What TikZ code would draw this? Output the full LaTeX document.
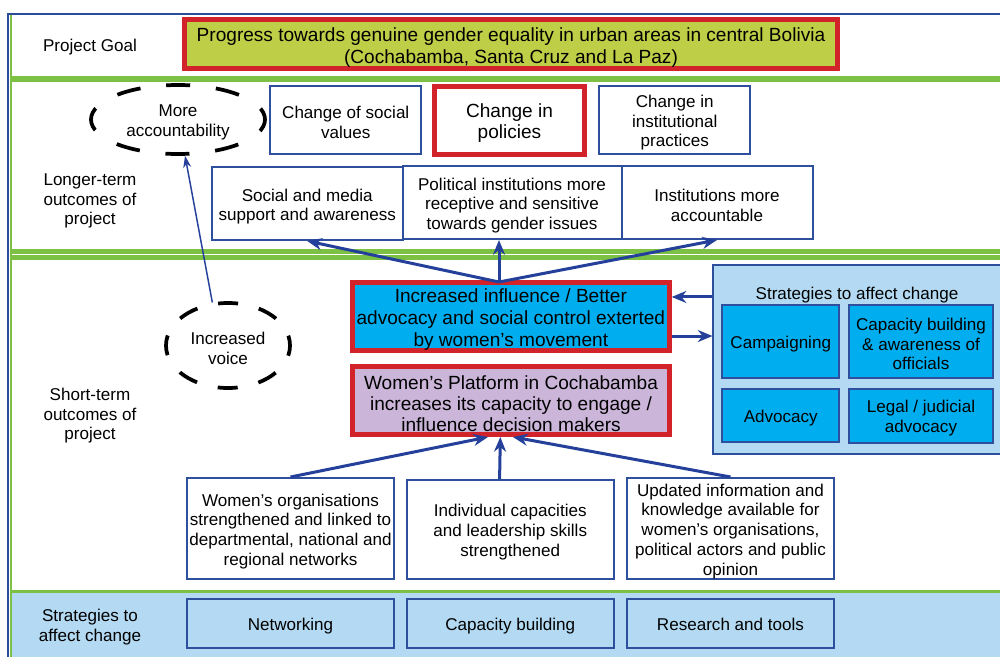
\documentclass[tikz,border=0pt]{standalone}
\usepackage{fontspec}
\setmainfont{Liberation Sans}
\usetikzlibrary{shapes.geometric,arrows.meta}
\definecolor{fblue}{HTML}{2B4C9B}
\definecolor{bblue}{HTML}{2E4E9E}
\definecolor{ablue}{HTML}{24409A}
\definecolor{gr}{HTML}{7CC144}
\definecolor{myred}{HTML}{D2232A}
\definecolor{goalf}{HTML}{BFCE47}
\definecolor{cyanf}{HTML}{00AEEF}
\definecolor{lavf}{HTML}{CBB5D9}
\definecolor{lightb}{HTML}{B3DAF2}
\newcommand\fA{\fontsize{12.8}{14.8}\selectfont}
\newcommand\fB{\fontsize{14.3}{16}\selectfont}
\newcommand\stA{\rule[-2.7pt]{0pt}{16.1pt}}
\newcommand\stB{\rule[-3pt]{0pt}{18pt}}
\begin{document}
\begin{tikzpicture}[x=0.75pt,y=-0.75pt,
  bbox/.style={draw=bblue, line width=1.5pt, fill=white, inner sep=0pt, align=center, font=\fA},
  rbox/.style={draw=myred, line width=3.75pt, inner sep=0pt, align=center, font=\fB},
  sbox/.style={draw=bblue, line width=1.5pt, fill=cyanf, inner sep=0pt, align=center, font=\fA},
  lab/.style={align=center, font=\fA, inner sep=0pt},
  arr/.style={draw=ablue, line width=2.25pt, -{Stealth[length=11pt,width=9pt]}},
  tarr/.style={draw=ablue, line width=1.1pt, -{Stealth[length=9pt,width=6pt]}},
  dell/.style={ellipse, draw=black, line width=2.8pt, align=center, font=\fA, inner sep=0pt}]
\useasboundingbox (0,0) rectangle (1000,657);
\clip (0,0) rectangle (1000,657);
\fill[white] (0,0) rectangle (1000,657);
% bands
\fill[lightb] (11,593) rectangle (1000,657);
\fill[gr] (11,589.5) rectangle (1000,593);
\fill[gr] (11,76) rectangle (1000,82);
\fill[gr] (11,249) rectangle (1000,260);
\draw[white, line width=0.75pt] (11,254.5) -- (1000,254.5);
\draw[gr, line width=1.5pt] (11,14) -- (11,657);
\draw[fblue, line width=1.5pt] (7.5,657) -- (7.5,13.5) -- (1000,13.5);
% left labels
\node[lab] (lgoal) at (90,44) {\stA Project Goal};
\node[lab] (llong) at (90,198) {\stA Longer-term\\outcomes of\\project};
\node[lab] (lshort) at (90,413) {\stA Short-term\\outcomes of\\project};
\node[lab] (lstrat) at (90,624) {\stA Strategies to\\affect change};
% goal
\node[rbox, fill=goalf, font=\fontsize{14.3}{16.5}\selectfont, minimum width=489.75pt, minimum height=36.75pt] (goal) at (511,44)
  {\stB Progress towards genuine gender equality in urban areas in central Bolivia\\(Cochabamba, Santa Cruz and La Paz)};
% longer-term
\node[dell, dash pattern=on 18pt off 19.4pt, dash phase=9pt, minimum width=130.5pt, minimum height=51.75pt] (acc) at (178,119.5) {\stA More\\accountability};
\node[bbox, minimum width=113.6pt, minimum height=51pt] (social) at (345.75,120) {\stA Change of social\\values};
\node[rbox, fill=white, font=\fontsize{14.3}{15.8}\selectfont, minimum width=112.5pt, minimum height=51pt] (pol) at (509.5,120) {\stB Change in\\policies};
\node[bbox, minimum width=113.6pt, minimum height=51pt] (inst) at (674.75,120) {\stA Change in\\institutional\\practices};
\node[bbox, minimum width=142.9pt, minimum height=54.4pt] (media) at (307.25,203.75) {\stA Social and media\\support and awareness};
\node[bbox, minimum width=164.25pt, minimum height=54.4pt] (polinst) at (512,202.75) {\stA Political institutions more\\receptive and sensitive\\towards gender issues};
\node[bbox, minimum width=143.25pt, minimum height=54.4pt] (instacc) at (717,202.75) {\stA Institutions more\\accountable};
% short-term
\node[rbox, fill=cyanf, font=\fontsize{14.3}{16.2}\selectfont, minimum width=237.5pt, minimum height=51pt] (infl) at (510.85,316.5)
  {\stB Increased influence / Better\\advocacy and social control exterted\\by women’s movement};
\node[rbox, fill=lavf, font=\fontsize{14.3}{15.8}\selectfont, minimum width=237.75pt, minimum height=51pt] (plat) at (511,400.5)
  {\stB Women’s Platform in Cochabamba\\increases its capacity to engage /\\influence decision makers};
\node[dell, dash pattern=on 15pt off 16pt, dash phase=7.5pt, minimum width=93pt, minimum height=63.75pt] (voice) at (228,345.5) {\stA Increased\\voice};
\node[draw=bblue, line width=1.5pt, fill=lightb, inner sep=0pt, minimum width=222.4pt, minimum height=141.75pt] (strat) at (861.75,359.5) {};
\node[lab] (strattitle) at (857,292) {\stA Strategies to affect change};
\node[sbox, minimum width=87.4pt, minimum height=54.4pt] (camp) at (780.75,341.25) {\stA Campaigning};
\node[sbox, minimum width=108pt, minimum height=54.4pt] (capaw) at (921,341.25) {\stA Capacity building\\\& awareness of\\officials};
\node[sbox, minimum width=87.4pt, minimum height=40.1pt] (adv) at (780.75,415.75) {\stA Advocacy};
\node[sbox, minimum width=108pt, minimum height=40.5pt] (legal) at (921,415.5) {\stA Legal / judicial\\advocacy};
\node[bbox, minimum width=155.25pt, minimum height=75.75pt] (org) at (290.5,528.5) {\stA Women’s organisations\\strengthened and linked to\\departmental, national and\\regional networks};
\node[bbox, minimum width=155.6pt, minimum height=74.25pt] (ind) at (510.25,529.5) {\stA Individual capacities\\and leadership skills\\strengthened};
\node[bbox, minimum width=155.25pt, minimum height=75.75pt] (upd) at (730.5,528.5) {\stA Updated information and\\knowledge available for\\women’s organisations,\\political actors and public\\opinion};
% bottom strategies
\node[bbox, fill=lightb, minimum width=155.25pt, minimum height=37.1pt] (net) at (290.5,623.75) {\stA Networking};
\node[bbox, fill=lightb, minimum width=155.6pt, minimum height=37.1pt] (capb) at (510.25,623.75) {\stA Capacity building};
\node[bbox, fill=lightb, minimum width=155.25pt, minimum height=37.1pt] (res) at (730.5,623.75) {\stA Research and tools};
% arrows
\coordinate (fan) at (499,282);
\draw[arr] (fan) -- (media.south);
\draw[arr] (fan) -- (fan |- polinst.south);
\draw[arr] (fan) -- (instacc.south);
\draw[tarr] (voice.110) -- (acc.-79);
\path ([yshift=46.9pt]strat.west) coordinate (sa);
\path ([yshift=17.6pt]strat.west) coordinate (sb);
\draw[arr] (sa) -- (infl.east |- sa);
\draw[arr] (infl.east |- sb) -- (sb);
\draw[arr] (org.north) -- ([xshift=-17.25pt]plat.south);
\draw[arr] ([xshift=-8pt]ind.north) -- ([xshift=-8pt]plat.south);
\draw[arr] (upd.north) -- ([xshift=1.5pt]plat.south);
\end{tikzpicture}
\end{document}
